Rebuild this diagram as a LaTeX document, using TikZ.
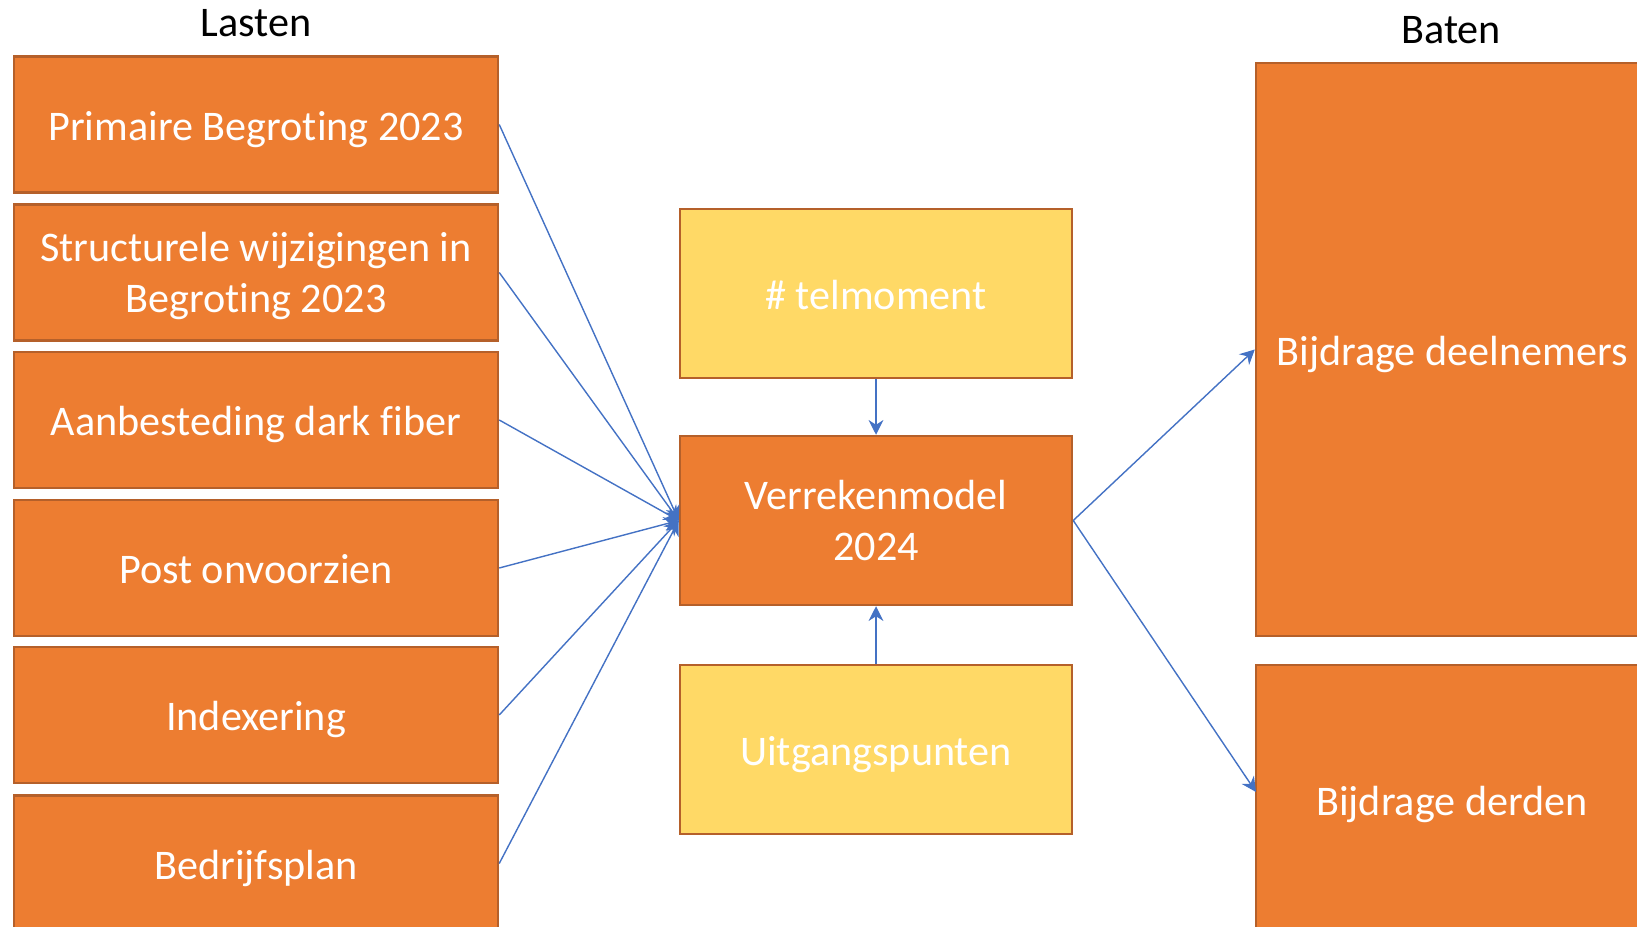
\documentclass[tikz,border=0pt]{standalone}
\usepackage{fontspec}
\setmainfont{Carlito}[Ligatures=NoCommon]
\usetikzlibrary{arrows.meta}
\definecolor{oFill}{HTML}{ED7D31}
\definecolor{oLine}{HTML}{B5602A}
\definecolor{yFill}{HTML}{FFD966}
\definecolor{lBlue}{HTML}{4472C4}
\tikzset{
  basebox/.style={draw=oLine, line width=0.7pt, text=white, align=center,
    font=\fontsize{12}{14.6}\selectfont, inner sep=0pt},
  one/.style={text height=0.9em, text depth=0pt},
  obox/.style={basebox, fill=oFill},
  ybox/.style={basebox, fill=yFill},
  lbox/.style={obox, minimum width=4.84cm, minimum height=1.36cm},
  mbox/.style={minimum width=3.92cm, minimum height=1.69cm},
  link/.style={draw=lBlue, line width=0.4pt, -{Stealth[length=4.2pt,width=4.2pt]}},
  head/.style={font=\fontsize{12}{14.6}\selectfont, text=black}
}
\begin{document}
\begin{tikzpicture}
\useasboundingbox (0,0) rectangle (16.37,-9.27);
\clip (0,0) rectangle (16.37,-9.27);
\node[head] (lasten) at (2.56,-0.23) {Lasten};
\node[head] (baten) at (14.51,-0.30) {Baten};
\node[lbox, one] (l1) at (2.56,-1.245) {Primaire Begroting 2023};
\node[lbox, text depth=0pt] (l2) at (2.56,-2.725) {Structurele wijzigingen in\\Begroting 2023};
\node[lbox, one] (l3) at (2.56,-4.20) {Aanbesteding dark fiber};
\node[lbox, one] (l4) at (2.56,-5.68) {Post onvoorzien};
\node[lbox, one] (l5) at (2.56,-7.15) {Indexering};
\node[lbox, one] (l6) at (2.56,-8.635) {Bedrijfsplan};
\node[ybox, mbox, one] (tel) at (8.76,-2.935) {\# telmoment};
\node[obox, mbox] (ver) at (8.76,-5.205) {Verrekenmodel\\2024};
\node[ybox, mbox, one] (uit) at (8.76,-7.495) {Uitgangspunten};
\node[obox, one, minimum width=3.92cm, minimum height=5.73cm] (dn) at (14.52,-3.495) {Bijdrage deelnemers};
\node[obox, one, minimum width=3.92cm, minimum height=2.70cm] (dr) at (14.52,-8.00) {Bijdrage derden};
\coordinate (drin) at (12.56,-7.92);
\foreach \n in {l1,l2,l3,l4,l5,l6} {
  \draw[link] (\n.east) -- (ver.west);
}
\draw[link] (tel.south) -- (ver.north);
\draw[link] (uit.north) -- (ver.south);
\draw[link] (ver.east) -- (dn.west);
\draw[link] (ver.east) -- (drin);
\end{tikzpicture}
\end{document}
